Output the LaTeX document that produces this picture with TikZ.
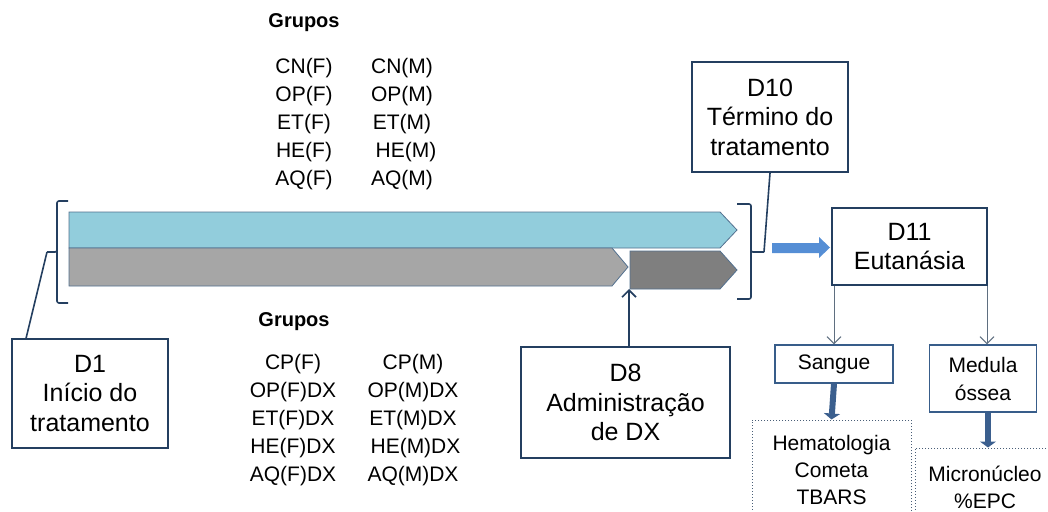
\documentclass[tikz,border=0pt]{standalone}
\usepackage{fontspec}
\setmainfont{Liberation Sans}
\usetikzlibrary{arrows.meta}
\definecolor{barblue}{HTML}{92CDDC}
\definecolor{bargray}{HTML}{A6A6A6}
\definecolor{bardark}{HTML}{7F7F7F}
\definecolor{barline}{HTML}{52708F}
\definecolor{navy}{HTML}{243F60}
\definecolor{boxblue}{HTML}{385D8A}
\definecolor{arrblue}{HTML}{558ED5}
\definecolor{thickblue}{HTML}{3B5F8E}
\definecolor{thingray}{HTML}{5F6F80}
\definecolor{dotcol}{HTML}{4A5F78}
\begin{document}
\begin{tikzpicture}[x=1pt,y=-1pt,
  bigbox/.style={draw=navy, line width=1.8pt, fill=white, align=center,
    font=\fontsize{25}{29.5}\selectfont, inner sep=0pt},
  smallbox/.style={draw=boxblue, line width=1.3pt, fill=white, align=center,
    font=\fontsize{21}{28}\selectfont, inner sep=0pt},
  dotbox/.style={draw=dotcol, dotted, line width=1pt, align=center,
    font=\fontsize{21}{27}\selectfont, inner sep=0pt},
  grouptext/.style={align=center, font=\fontsize{21}{27.8}\selectfont, inner sep=0pt},
  grouptitle/.style={font=\fontsize{20}{24}\selectfont\bfseries, inner sep=0pt},
  bar/.style={draw=barline, line width=0.8pt},
  bracket/.style={draw=navy, line width=1.6pt, rounded corners=2pt},
  leader/.style={draw=navy, line width=1.6pt},
  thinarrow/.style={draw=thingray, line width=1pt, -{Straight Barb[length=7pt,width=14pt]}},
  thickarrow/.style={draw=thickblue, line width=6pt, -{Triangle[length=6pt,width=16pt]}},
  uparrow/.style={draw=navy, line width=1.6pt, -{Straight Barb[length=7pt,width=14pt]}}
]
\useasboundingbox (0,0) rectangle (1048,511);

% bars
\path[bar, fill=barblue] (69,212) -- (720,212) -- (737,230) -- (720,248) -- (69,248) -- cycle;
\path[bar, fill=bargray] (69,248) -- (612,248) -- (628,267) -- (612,286) -- (69,286) -- cycle;
\path[bar, fill=bardark] (630,251) -- (720,251) -- (737,270) -- (720,289) -- (630,289) -- cycle;
\coordinate (darkbottom) at (629,289);

% brackets
\coordinate (lb) at (47,252);
\coordinate (rb) at (764,252);
\path[bracket] (68,201) -- (57,201) -- (57,252) -- (47,252);
\path[bracket] (57,250) -- (57,303) -- (68,303);
\path[bracket] (737,204) -- (751,204) -- (751,252) -- (764,252);
\path[bracket] (751,250) -- (751,299) -- (737,299);

% group texts
\node[grouptitle] (g1) at (304,23) {Grupos};
\node[grouptext] (c1) at (304,124) {CN(F)\\OP(F)\\ET(F)\\HE(F)\\AQ(F)};
\node[grouptext] (c2) at (402,124) {CN(M)\\OP(M)\\ET(M)\\\hspace*{8pt}HE(M)\\AQ(M)};
\node[grouptitle] (g2) at (294,322) {Grupos};
\node[grouptext] (c3) at (293,420) {CP(F)\\OP(F)DX\\ET(F)DX\\HE(F)DX\\AQ(F)DX};
\node[grouptext] (c4) at (413,420) {CP(M)\\OP(M)DX\\ET(M)DX\\\hspace*{5pt}HE(M)DX\\AQ(M)DX};

% boxes
\node[bigbox, minimum width=156pt, minimum height=109pt] (D1) at (90,393.5) {D1\\Início do\\tratamento};
\node[bigbox, minimum width=209pt, minimum height=111pt] (D8) at (625.5,402.5) {D8\\Administração\\de DX};
\node[bigbox, minimum width=156pt, minimum height=110pt] (D10) at (770,117) {D10\\Término do\\tratamento};
\node[bigbox, minimum width=155pt, minimum height=77pt] (D11) at (909.5,246.5) {D11\\Eutanásia};
\node[smallbox, minimum width=118pt, minimum height=38pt] (S) at (834,364) {Sangue};
\node[smallbox, minimum width=107pt, minimum height=67pt] (M) at (983,378.5) {Medula\\óssea};
\node[dotbox, minimum width=159pt, minimum height=100pt] (H) at (831.5,470) {Hematologia\\Cometa\\TBARS};
\node[dotbox, minimum width=140pt, minimum height=79pt] (MN) at (985,487.5) {Micronúcleo\\\%EPC};

% connectors
\draw[leader] (lb) -- ([xshift=15pt]D1.north west);
\draw[leader] (rb) -- (D10.south);
\draw[uparrow] ([xshift=3.5pt]D8.north) -- (darkbottom);
\fill[arrblue] (772,243) -- (819,243) -- (819,237) -- (830,247.5) -- (819,258) -- (819,253) -- (772,253) -- cycle;
\draw[thinarrow] (D11.south -| S.north) -- (S.north);
\draw[thinarrow] ([xshift=4pt]D11.south -| M.north) -- ([xshift=4pt]M.north);
\draw[thickarrow] (S.south) -- (H.north);
\draw[thickarrow] ([xshift=5pt]M.south) -- ([xshift=5pt]M.south |- MN.north);
\end{tikzpicture}
\end{document}
